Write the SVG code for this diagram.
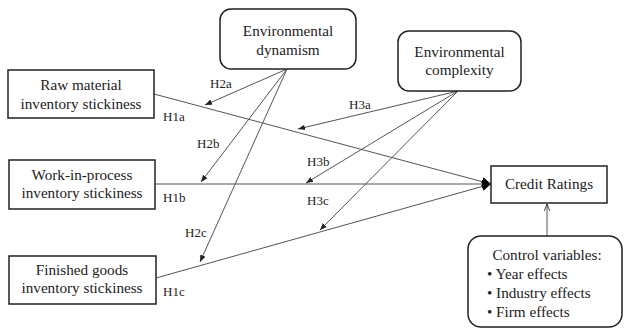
<svg xmlns="http://www.w3.org/2000/svg" width="624" height="331" viewBox="0 0 624 331">
<defs>
<marker id="big" viewBox="0 0 10 10" refX="10" refY="5" markerWidth="9" markerHeight="9" markerUnits="userSpaceOnUse" orient="auto"><path d="M0,0 L10,5 L0,10 z" fill="#000"/></marker>
<marker id="small" viewBox="0 0 10 10" refX="10" refY="5" markerWidth="7" markerHeight="7" markerUnits="userSpaceOnUse" orient="auto"><path d="M0,1 L10,5 L0,9 z" fill="#222"/></marker>
<marker id="open" viewBox="0 0 10 10" refX="10" refY="5" markerWidth="7" markerHeight="7" markerUnits="userSpaceOnUse" orient="auto"><path d="M0,1 L10,5 L0,9" fill="none" stroke="#222" stroke-width="1.2"/></marker>
</defs>
<style>
.box{fill:#fff;stroke:#222;stroke-width:1.5}
text{font-family:'Liberation Serif','DejaVu Serif',serif;fill:#222}
.t{font-size:15.2px;text-anchor:middle}
.tl{font-size:15.2px}
.lab{font-size:13px}
.ln{stroke:#555;stroke-width:1;fill:none}
</style>
<rect width="624" height="331" fill="#fff"/>
<g id="connectors">
<line class="ln" x1="154" y1="94" x2="491" y2="184" marker-end="url(#big)"/>
<line class="ln" x1="155" y1="184" x2="491" y2="184" marker-end="url(#big)"/>
<line class="ln" x1="156" y1="278" x2="491" y2="184" marker-end="url(#big)"/>
<line class="ln" x1="287" y1="69" x2="205" y2="105" marker-end="url(#small)"/>
<line class="ln" x1="287" y1="69" x2="201" y2="182" marker-end="url(#small)"/>
<line class="ln" x1="287" y1="69" x2="200" y2="262" marker-end="url(#small)"/>
<line class="ln" x1="458" y1="91" x2="298" y2="129" marker-end="url(#small)"/>
<line class="ln" x1="458" y1="91" x2="306" y2="183" marker-end="url(#small)"/>
<line class="ln" x1="458" y1="91" x2="320" y2="230" marker-end="url(#small)"/>
<line class="ln" x1="547" y1="236" x2="547" y2="204" marker-end="url(#open)"/>
<text class="lab" x="210" y="88">H2a</text>
<text class="lab" x="163" y="121">H1a</text>
<text class="lab" x="197" y="148">H2b</text>
<text class="lab" x="349" y="109">H3a</text>
<text class="lab" x="307" y="166">H3b</text>
<text class="lab" x="163" y="202">H1b</text>
<text class="lab" x="307" y="205">H3c</text>
<text class="lab" x="185" y="237">H2c</text>
<text class="lab" x="163" y="296">H1c</text>
</g>
<g id="raw">
<rect class="box" x="8" y="70" width="146" height="48"/>
<text class="t" x="81" y="90">Raw material</text>
<text class="t" x="81" y="109">inventory stickiness</text>
</g>
<g id="wip">
<rect class="box" x="9" y="160" width="146" height="49"/>
<text class="t" x="82" y="180">Work-in-process</text>
<text class="t" x="82" y="198">inventory stickiness</text>
</g>
<g id="fg">
<rect class="box" x="9" y="256" width="147" height="48"/>
<text class="t" x="82" y="275">Finished goods</text>
<text class="t" x="82" y="293">inventory stickiness</text>
</g>
<g id="dynamism">
<rect class="box" x="220" y="9" width="136" height="60" rx="11"/>
<text class="t" x="288" y="36">Environmental</text>
<text class="t" x="288" y="55">dynamism</text>
</g>
<g id="complexity">
<rect class="box" x="398" y="31" width="123" height="60" rx="11"/>
<text class="t" x="459.500" y="57">Environmental</text>
<text class="t" x="459.500" y="75">complexity</text>
</g>
<g id="credit">
<rect class="box" x="491" y="166" width="116" height="37"/>
<text class="t" x="549" y="189">Credit Ratings</text>
</g>
<g id="control">
<rect class="box" x="468" y="236" width="154" height="91" rx="13"/>
<text class="t" x="547" y="260">Control variables:</text>
<text class="tl" x="487" y="279">• Year effects</text>
<text class="tl" x="487" y="298">• Industry effects</text>
<text class="tl" x="487" y="317">• Firm effects</text>
</g>
</svg>
